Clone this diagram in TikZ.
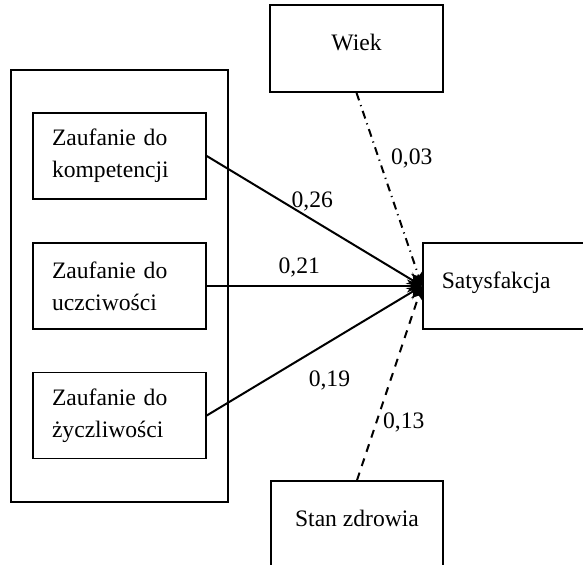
\documentclass[tikz,border=0pt]{standalone}
\usepackage{fontspec}
\setmainfont{Liberation Serif}
\usetikzlibrary{arrows.meta}

\tikzset{
  every node/.style={font=\fontsize{11.8}{16}\selectfont},
  box/.style={draw, line width=0.75pt, rectangle, inner sep=0pt, minimum width=86.5pt, minimum height=43pt},
  onebox/.style={box, text depth=6pt},
  leftbox/.style={box, align=left, inner xsep=9.5pt, text width=67.5pt},
  dashdot/.style={dash pattern=on 4pt off 2.5pt on 0.6pt off 2.5pt},
  dashline/.style={dash pattern=on 4pt off 3.5pt}
}

\begin{document}
\begin{tikzpicture}[x=0.5pt,y=-0.5pt]
        \useasboundingbox (0,0) rectangle (583,565);
        \node[box, minimum width=108.5pt, minimum height=216pt] at (119.5,286) (grupa) {};
        \node[leftbox] at (119.5,156) (kompet) {Zaufanie do\\kompetencji};
        \node[leftbox] at (119.5,286) (uczciw) {Zaufanie do\\uczciwości};
        \node[leftbox] at (119.5,415.5) (zyczl) {Zaufanie do\\życzliwości};
        \node[onebox, minimum height=43.5pt] at (356.5,48.5) (wiek) {Wiek};
        \node[onebox, anchor=west, align=left, inner xsep=9.5pt, text width=70pt] at (422,286) (satysf) {Satysfakcja};
        \node[onebox, minimum width=86pt] at (357,524) (zdrowie) {Stan zdrowia};
        \path[->, line width=1pt, >={Stealth[length=7.5pt,width=6.5pt]}]
        (kompet.east) edge node[pos=0.49, yshift=9pt] {0,26} (satysf.west)
        (uczciw.east) edge node[pos=0.43, yshift=9.5pt] {0,21} (satysf.west)
        (zyczl.east) edge node[pos=0.57, yshift=-19.5pt] {0,19} (satysf.west)
        (wiek.south) edge [dashdot] node[pos=0.34, xshift=16.5pt] {0,03} (satysf.west)
        (zdrowie.north) edge [dashline] node[pos=0.3, anchor=west, xshift=-0.5pt] {0,13} (satysf.west)
        ;
    \end{tikzpicture}
\end{document}
